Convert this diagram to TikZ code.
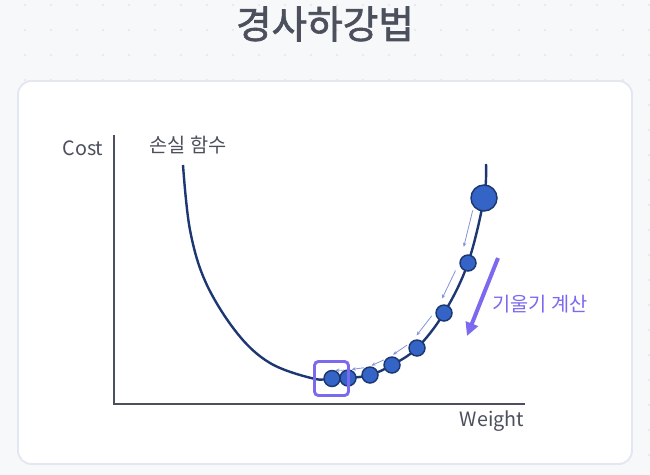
\documentclass[tikz,border=0pt]{standalone}
\usepackage{fontspec}
\setmainfont{Noto Sans CJK KR}
\newfontfamily\titlefont[FakeBold=1.6]{Noto Sans CJK KR}
\usetikzlibrary{calc,arrows.meta}
\definecolor{bgGray}{HTML}{F7F8FA}
\definecolor{gridDot}{HTML}{E3E6ED}
\definecolor{cardLine}{HTML}{E4E7EF}
\definecolor{inkGray}{HTML}{4B505C}
\definecolor{curveNavy}{HTML}{1C3772}
\definecolor{dotBlue}{HTML}{3464C6}
\definecolor{gradPurple}{HTML}{7B6AEE}
\definecolor{stepLine}{HTML}{8494D6}
\begin{document}
\begin{tikzpicture}[x=0.75pt, y=-0.75pt, >=Stealth,
    label text/.style={text=inkGray, font=\fontsize{14.8}{17}\selectfont, inner sep=0pt},
    title text/.style={text=inkGray, font=\titlefont\fontsize{29}{32}\selectfont, inner sep=0pt},
    axis line/.style={draw=inkGray, line width=2.2pt},
    step dot/.style={circle, draw=curveNavy, fill=dotBlue, line width=1.1pt, minimum size=12pt, inner sep=0pt},
    start dot/.style={step dot, minimum size=19.5pt},
    step arrow/.style={draw=stepLine, line width=0.6pt, -{Stealth[length=3pt, width=2.6pt]}},
    grad arrow/.style={draw=gradPurple, line width=3pt, -{Triangle[length=10pt, width=9.5pt]}},
    focus box/.style={draw=gradPurple, line width=2.2pt, rounded corners=3pt, minimum size=25.5pt, inner sep=0pt}]
  \useasboundingbox (0,0) rectangle (650,475);
  % 배경과 점 격자
  \fill[bgGray] (0,0) rectangle (650,475);
  \foreach \gx in {25,51,...,650}
    \foreach \gy in {5,30,...,475}
      \fill[gridDot] (\gx,\gy) circle (0.8pt);

  % 제목
  \node[title text] (title) at (325,24) {경사하강법};

  % 카드
  \draw[draw=cardLine, fill=white, line width=1.4pt, rounded corners=10pt] (18,81) rectangle (632,464);

  % 축
  \coordinate (yTop) at (114,135);
  \coordinate (origin) at (114,404);
  \coordinate (xEnd) at (525,404);
  \draw[axis line] (yTop) -- (origin) -- (xEnd);
  \node[label text] (costLabel) at (83,148) {Cost};
  \node[label text] (weightLabel) at (492,421) {Weight};
  \node[label text] (lossLabel) at (188,145) {손실 함수};

  % 손실 곡선
  \draw[curveNavy, line width=1.8pt] plot[smooth, tension=0.6] coordinates {(183,165) (190,230) (206,283) (237,333) (270,363) (313,378.5) (332,378.5) (348,378) (370,375) (392,365) (417,348) (444,313) (468,263) (484,198) (486,164)};

  % 하강 단계
  \node[start dot] (p0) at (484,198) {};
  \foreach \name/\px/\py in {p1/468/263, p2/444/313, p3/417/348, p4/392/365, p5/370/375, p6/348/378, p7/332/378.5}
    \node[step dot] (\name) at (\px,\py) {};
  \foreach \a/\b in {p0/p1, p1/p2, p2/p3, p3/p4, p4/p5, p5/p6, p6/p7}
    \draw[step arrow] ($(\a)!0.22!(\b)!6pt!-90:(\b)$) -- ($(\a)!0.78!(\b)!6pt!-90:(\b)$);

  % 최솟값 표시
  \node[focus box] (minBox) at (331.5,378.5) {};

  % 기울기 화살표
  \coordinate (gradTop) at (498,258);
  \coordinate (gradTip) at (467,336);
  \draw[grad arrow] (gradTop) -- (gradTip);
  \node[label text, text=gradPurple] (gradLabel) at (540,304) {기울기 계산};
\end{tikzpicture}
\end{document}
